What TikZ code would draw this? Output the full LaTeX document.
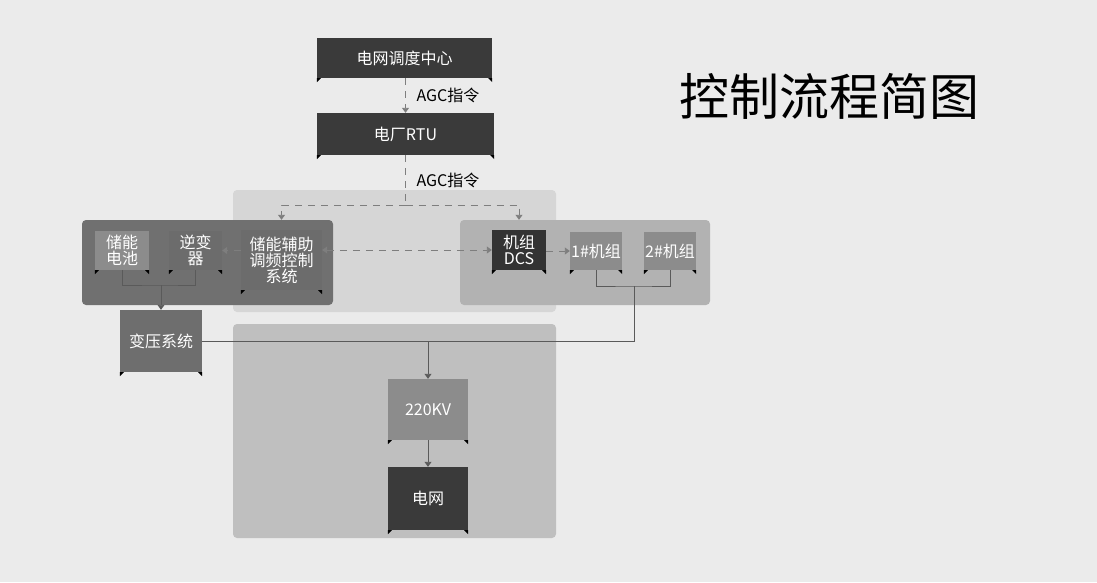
\documentclass[tikz,border=0pt]{standalone}
\usepackage{fontspec}
\setmainfont{Noto Sans CJK SC}
\usetikzlibrary{arrows.meta,positioning}

\definecolor{bgcol}{HTML}{EBEBEB}
\definecolor{darkbox}{HTML}{3A3A3A}
\definecolor{midbox}{HTML}{6C6C6C}
\definecolor{lightbox}{HTML}{8C8C8C}
\definecolor{linecol}{HTML}{5A5A5A}
\definecolor{dashcol}{HTML}{7E7E7E}

\tikzset{
  box/.style={inner sep=0pt, text=white, font=\fontsize{16}{16}\selectfont, align=center},
  panel/.style={rounded corners=4pt, inner sep=0pt},
  wire/.style={draw=linecol, line width=0.9pt},
  cmd/.style={draw=dashcol, line width=0.9pt, dash pattern=on 7pt off 6pt},
  tip/.style={-{Triangle[length=5pt,width=7pt]}},
}

\begin{document}
\begin{tikzpicture}[x=1pt,y=-1pt]
      % Define the page and its background
      \fill[bgcol] (0,0) rectangle (1097,582);
      \useasboundingbox (0,0) rectangle (1097,582);

      % Panels behind the boxes
      \node[panel, fill=black!16, minimum width=323pt, minimum height=122pt] (pnlTop) at (394.5,251) {};
      \node[panel, fill=black!25, minimum width=323pt, minimum height=214pt] (pnlBot) at (394.5,431) {};
      \node[panel, fill=black!56, minimum width=251pt, minimum height=85pt] (pnlL) at (207.5,262.5) {};
      \node[panel, fill=black!30, minimum width=250pt, minimum height=85pt] (pnlR) at (585,262.5) {};

      % Title
      \node[anchor=west, font=\fontsize{50}{52}\selectfont] (title) at (676,96) {控制流程简图};

      % Boxes
      \node[box, fill=darkbox, minimum width=175pt, minimum height=40pt] (ds) at (404.5,58) {电网调度中心};
      \node[box, fill=darkbox, minimum width=177pt, minimum height=42pt] (rtu) at (405.5,134) {电厂RTU};
      \node[box, fill=lightbox, minimum width=54pt, minimum height=39pt] (bat) at (122,250.5) {储能\\电池};
      \node[box, fill=midbox, minimum width=53pt, minimum height=39pt] (inv) at (195.5,250.5) {逆变\\器};
      \node[box, fill=midbox, minimum width=81pt, minimum height=60pt] (ctl) at (281.5,260) {储能辅助\\调频控制\\系统};
      \node[box, fill=black!80, minimum width=54pt, minimum height=40pt] (dcs) at (519,250) {机组\\DCS};
      \node[box, fill=lightbox, minimum width=52pt, minimum height=38pt] (g1) at (596,251) {1\#机组};
      \node[box, fill=lightbox, minimum width=52pt, minimum height=38pt] (g2) at (670,251) {2\#机组};
      \node[box, fill=black!57, minimum width=82pt, minimum height=62pt] (tr) at (161,341) {变压系统};
      \node[box, fill=lightbox, minimum width=80pt, minimum height=61pt] (kv) at (428,409.5) {220KV};
      \node[box, fill=darkbox, minimum width=80pt, minimum height=63pt] (grid) at (428,498.5) {电网};

      % Little black feet under every box
      \foreach \n in {ds,rtu,bat,inv,ctl,dcs,g1,g2,tr,kv,grid} {
        \fill (\n.south west) -- ++(4,0) -- ++(-4,4) -- cycle;
        \fill (\n.south east) -- ++(-4,0) -- ++(4,4) -- cycle;
      }

      % AGC commands
      \draw[cmd, tip] (ds.south -| rtu.north) -- (rtu.north);
      \node[anchor=west, font=\fontsize{16}{17}\selectfont] (agcA) at (413,95) {AGC指令};
      \coordinate (split) at (rtu.south |- 0,205);
      \draw[cmd] (rtu.south) -- (split);
      \draw[cmd, tip] (split) -| (ctl.north |- pnlL.north);
      \draw[cmd, tip] (split) -| (dcs.north |- pnlR.north);
      \node[anchor=west, font=\fontsize{16}{17}\selectfont] (agcB) at (413,180) {AGC指令};

      % Dashed links inside the panels
      \draw[cmd, tip] (ctl.west |- inv.east) -- (inv.east);
      \draw[cmd, {Triangle[length=5pt,width=7pt]}-{Triangle[length=5pt,width=7pt]}] (ctl.east |- dcs.west) -- (dcs.west);
      \draw[cmd, tip] (dcs.east |- g1.west) -- (g1.west);

      % Storage side to the transformer
      \coordinate (joinL) at (tr.north |- 0,285);
      \draw[wire] (bat.south) |- (joinL) -| (inv.south);
      \draw[wire, tip] (joinL) -- (tr.north);

      % Units to the 220KV bus
      \coordinate (joinR) at (634,286);
      \draw[wire] (g1.south) |- (joinR) -| (g2.south);
      \draw[wire] (joinR) |- (tr.east);
      \coordinate (bus) at (kv.north |- tr.east);
      \draw[wire, tip] (bus) -- (kv.north);
      \draw[wire, tip] (kv.south) -- (grid.north);
\end{tikzpicture}
\end{document}
